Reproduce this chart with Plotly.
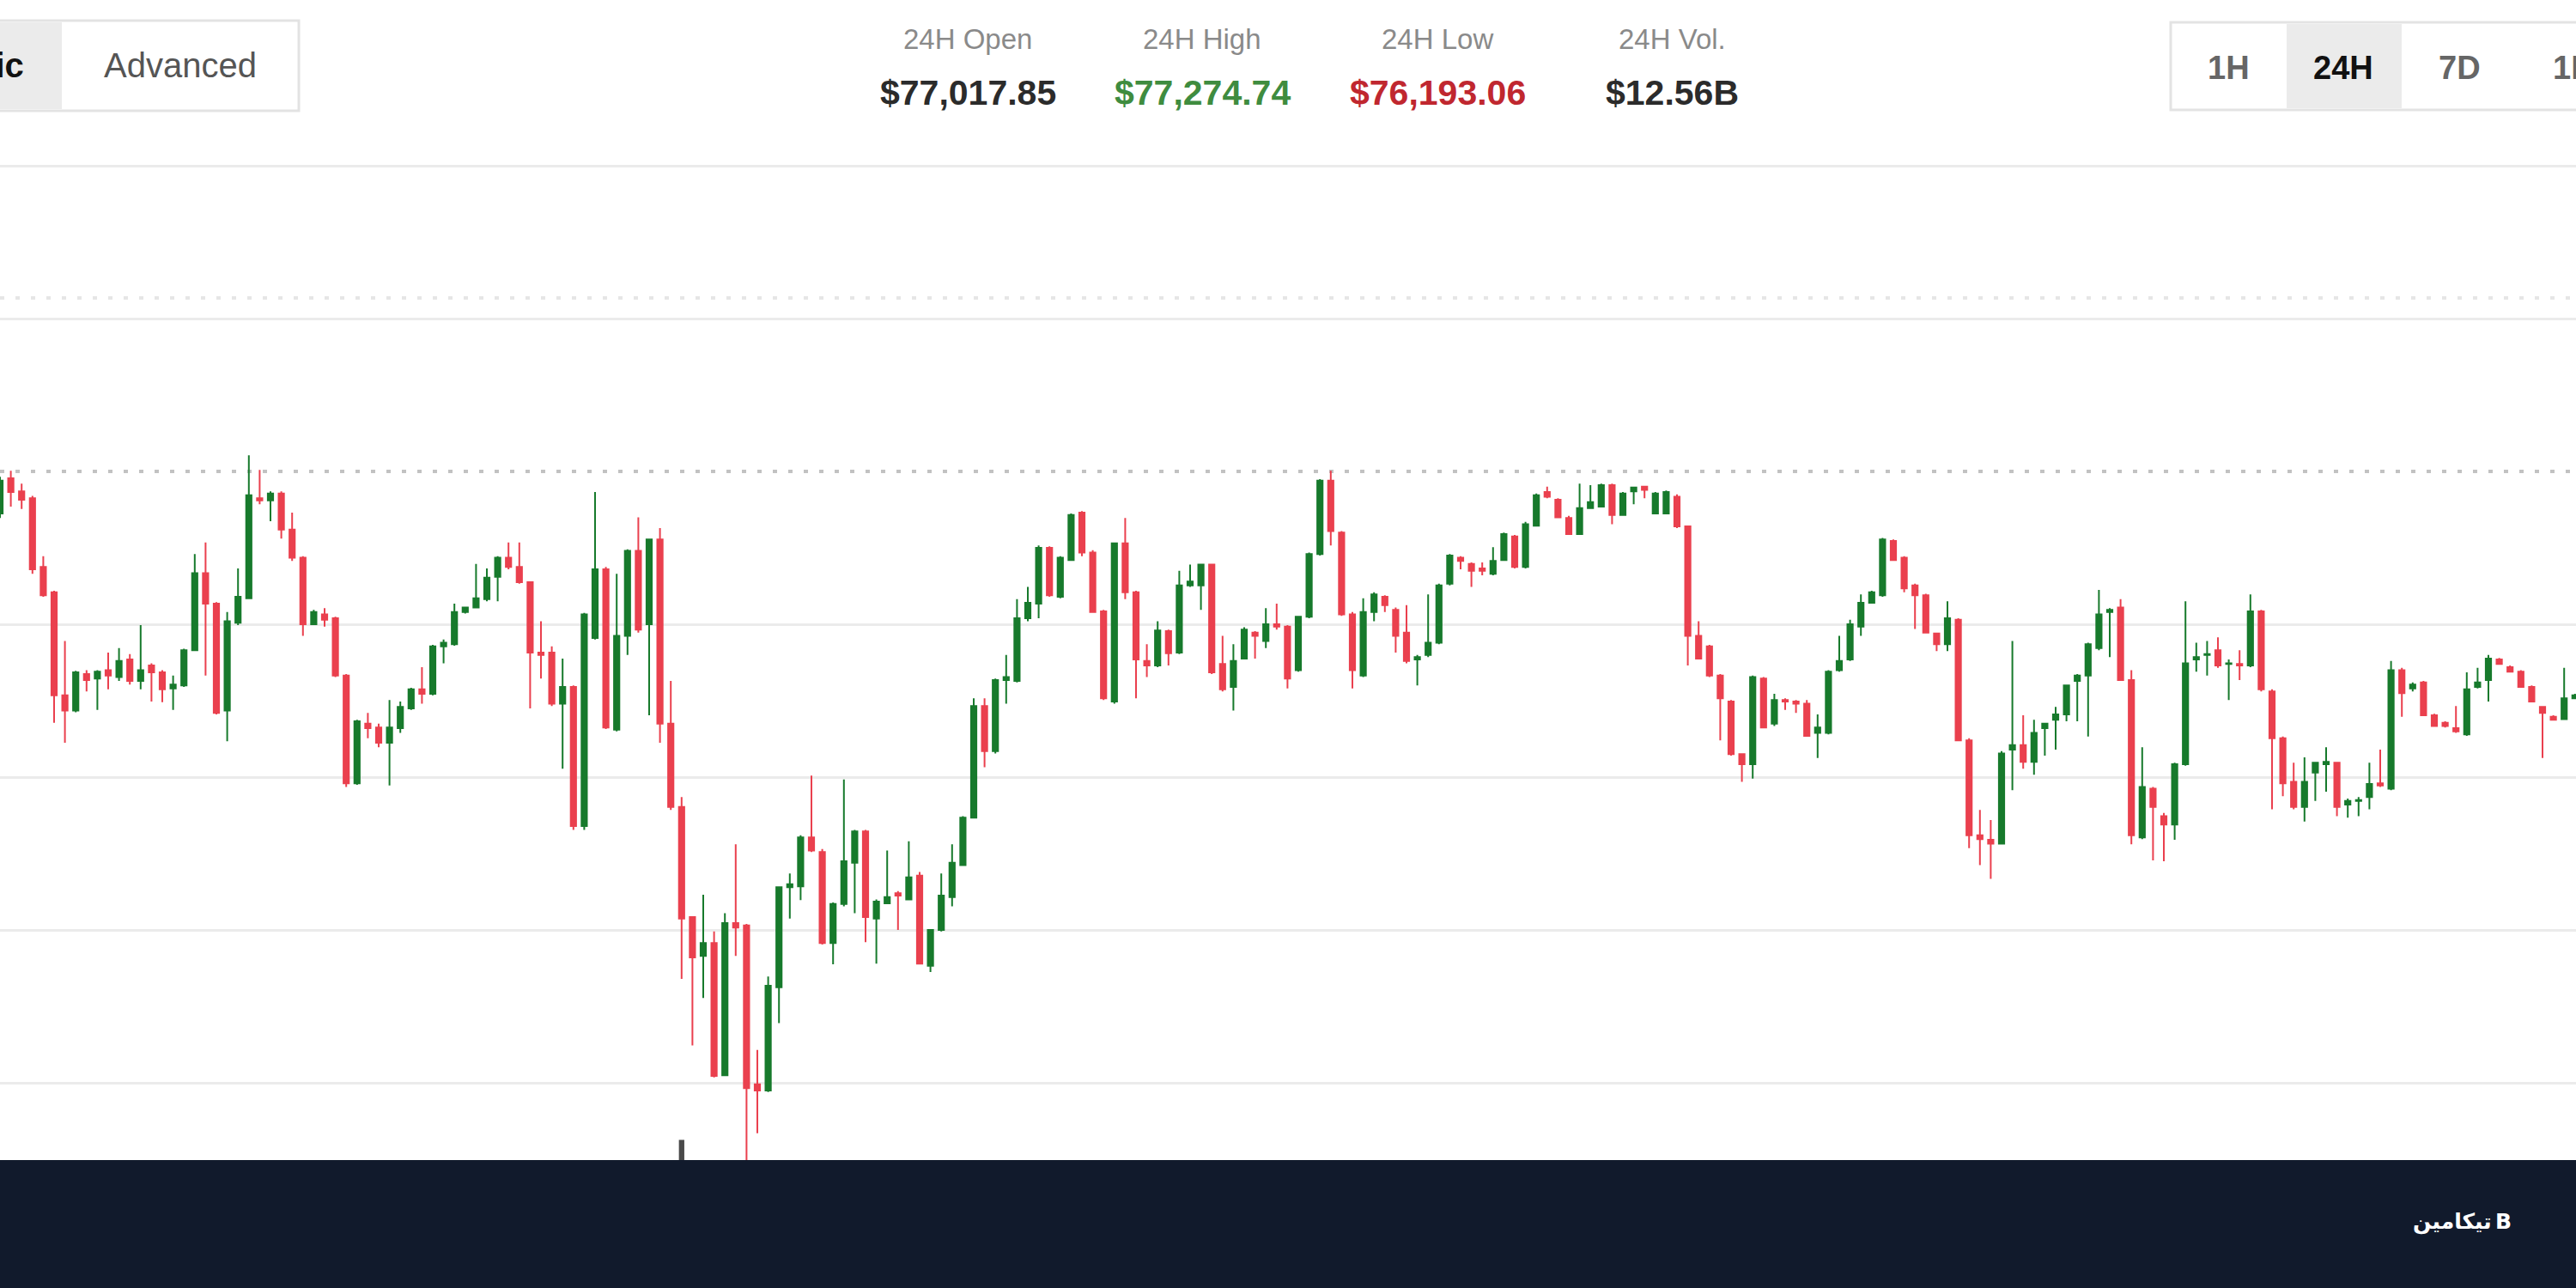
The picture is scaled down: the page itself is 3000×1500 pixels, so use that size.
import plotly.graph_objects as go

# ---------------- data (5-minute BTC candles) ----------------
opens = [77145, 77191, 77174, 77165, 77075, 77042, 76907, 76887, 76935, 76929,
         76940, 76931, 76954, 76926, 76946, 76937, 76916, 76920, 76966, 77067,
         77027, 76887, 77002, 77034, 77165, 77162, 77171, 77124, 77087, 77000,
         77013, 77008, 76933, 76792, 76870, 76865, 76845, 76864, 76890, 76915,
         76909, 76971, 76974, 77016, 77022, 77033, 77062, 77087, 77075, 77055,
         76963, 76963, 76896, 76918, 76736, 76982, 77072, 76862, 76985, 77096,
         77000, 77111, 76870, 76761, 76617, 76566, 76583, 76410, 76609, 76606,
         76398, 76390, 76525, 76656, 76657, 76721, 76702, 76583, 76634, 76688,
         76729, 76615, 76635, 76648, 76640, 76671, 76553, 76600, 76643, 76685,
         76747, 76893, 76834, 76927, 76926, 77008, 77027, 77100, 77036, 77084,
         77146, 77094, 77017, 76899, 77106, 77042, 76952, 76946, 76991, 76963,
         77051, 77051, 77078, 76948, 76918, 76955, 76989, 76978, 77000, 76997,
         76940, 77010, 77092, 77188, 77120, 77013, 76933, 77016, 77036, 77019,
         76989, 76954, 76960, 76976, 77053, 77087, 77079, 77073, 77066, 77084,
         77115, 77075, 77129, 77173, 77163, 77139, 77118, 77152, 77154, 77182,
         77143, 77174, 77180, 77145, 77145, 77167, 77128, 76985, 76971, 76933,
         76899, 76830, 76817, 76929, 76870, 76901, 76899, 76896, 76858, 76858,
         76940, 76954, 76997, 77028, 77038, 77109, 77087, 77051, 77038, 76988,
         76974, 77006, 76848, 76724, 76718, 76713, 76836, 76842, 76820, 76864,
         76875, 76882, 76926, 76933, 76969, 77016, 77022, 76927, 76721, 76785,
         76749, 76738, 76817, 76954, 76960, 76966, 76948, 76948, 76946, 77017,
         76912, 76851, 76794, 76761, 76806, 76817, 76819, 76764, 76769, 76774,
         76792, 76785, 76940, 76916, 76924, 76881, 76871, 76864, 76856, 76918,
         76927, 76954, 76944, 76938, 76918, 76892, 76879, 76876, 76903]
highs = [77193, 77201, 77184, 77168, 77089, 77044, 76978, 76939, 76940, 76940,
         76963, 76969, 76961, 76999, 76949, 76940, 76933, 76968, 77092, 77107,
         77029, 77016, 77073, 77221, 77202, 77174, 77174, 77146, 77089, 77019,
         77021, 77010, 76935, 76875, 76884, 76870, 76901, 76899, 76917, 76944,
         76973, 76980, 77027, 77023, 77079, 77073, 77089, 77107, 77107, 77056,
         77004, 76971, 76955, 76920, 77015, 77173, 77075, 77066, 77098, 77140,
         77112, 77126, 76926, 76774, 76618, 76646, 76598, 76622, 76712, 76608,
         76443, 76539, 76657, 76674, 76724, 76802, 76706, 76636, 76797, 76731,
         76731, 76640, 76704, 76651, 76716, 76676, 76601, 76674, 76712, 76749,
         76903, 76903, 76929, 76960, 77033, 77049, 77103, 77102, 77089, 77145,
         77148, 77097, 77019, 77107, 77139, 77044, 76974, 77004, 76993, 77070,
         77078, 77079, 77079, 76985, 76974, 76996, 76991, 77021, 77027, 76999,
         77011, 77094, 77190, 77201, 77122, 77016, 77034, 77042, 77038, 77022,
         77025, 76960, 77039, 77053, 77092, 77089, 77081, 77081, 77101, 77120,
         77117, 77134, 77171, 77180, 77165, 77142, 77184, 77182, 77184, 77184,
         77173, 77180, 77181, 77173, 77175, 77170, 77129, 77004, 76973, 76935,
         76901, 76831, 76933, 76931, 76909, 76903, 76901, 76901, 76882, 76940,
         76985, 77006, 77039, 77044, 77113, 77111, 77089, 77053, 77040, 76989,
         77030, 77008, 76851, 76757, 76744, 76834, 76978, 76881, 76875, 76871,
         76892, 76921, 76935, 76976, 77045, 77021, 77033, 76940, 76839, 76787,
         76753, 76819, 77030, 76976, 76978, 76983, 76954, 76966, 77039, 77019,
         76915, 76853, 76819, 76826, 76820, 76839, 76820, 76772, 76774, 76819,
         76836, 76952, 76943, 76924, 76926, 76883, 76873, 76893, 76937, 76943,
         76960, 76956, 76946, 76940, 76920, 76893, 76881, 76943, 76909]
lows = [77139, 77154, 77151, 77066, 77036, 76871, 76845, 76885, 76912, 76888,
        76915, 76926, 76921, 76915, 76899, 76898, 76888, 76918, 76965, 76933,
        76882, 76847, 76999, 77033, 77157, 77135, 77112, 77083, 76985, 76999,
        76997, 76931, 76787, 76790, 76851, 76839, 76789, 76858, 76888, 76896,
        76907, 76949, 76972, 77014, 77021, 77030, 77030, 77072, 77053, 76890,
        76929, 76893, 76811, 76731, 76731, 76980, 76863, 76860, 76960, 76989,
        76881, 76845, 76757, 76536, 76449, 76511, 76407, 76409, 76566, 76193,
        76334, 76388, 76478, 76615, 76639, 76702, 76581, 76555, 76631, 76622,
        76584, 76556, 76634, 76600, 76639, 76555, 76545, 76598, 76631, 76684,
        76746, 76813, 76831, 76896, 76924, 77004, 77008, 77036, 77034, 77083,
        77089, 77015, 76901, 76896, 77033, 76903, 76931, 76944, 76946, 76961,
        77049, 77019, 76935, 76912, 76887, 76954, 76955, 76969, 76993, 76916,
        76938, 77008, 77090, 77103, 77011, 76916, 76931, 77004, 77016, 76963,
        76949, 76920, 76957, 76974, 77051, 77072, 77049, 77064, 77064, 77083,
        77073, 77073, 77128, 77165, 77139, 77117, 77117, 77151, 77153, 77131,
        77142, 77157, 77165, 77144, 77144, 77126, 76946, 76954, 76931, 76848,
        76828, 76794, 76798, 76864, 76867, 76888, 76884, 76853, 76825, 76856,
        76938, 76952, 76985, 77027, 77036, 77083, 77042, 76994, 76988, 76965,
        76965, 76847, 76707, 76685, 76667, 76712, 76783, 76811, 76803, 76828,
        76836, 76873, 76873, 76853, 76966, 76957, 76926, 76712, 76719, 76691,
        76690, 76718, 76815, 76938, 76933, 76943, 76901, 76927, 76944, 76912,
        76758, 76775, 76758, 76742, 76769, 76781, 76749, 76747, 76749, 76758,
        76787, 76783, 76879, 76912, 76880, 76866, 76865, 76858, 76854, 76916,
        76899, 76947, 76937, 76917, 76898, 76825, 76874, 76875, 76902]
closes = [77188, 77173, 77163, 77072, 77038, 76907, 76887, 76937, 76927, 76938,
          76933, 76952, 76926, 76940, 76937, 76915, 76921, 76966, 77067, 77027,
          76884, 77004, 77036, 77169, 77162, 77171, 77124, 77087, 77000, 77016,
          77006, 76933, 76792, 76873, 76864, 76845, 76865, 76892, 76915, 76909,
          76971, 76976, 77016, 77022, 77034, 77061, 77087, 77075, 77055, 76963,
          76960, 76896, 76918, 76736, 77013, 77072, 76865, 76985, 77096, 76993,
          77111, 76870, 76761, 76615, 76564, 76583, 76409, 76609, 76603, 76393,
          76390, 76527, 76656, 76660, 76721, 76704, 76583, 76634, 76690, 76729,
          76617, 76637, 76643, 76645, 76669, 76556, 76600, 76645, 76688, 76747,
          76893, 76834, 76927, 76931, 77008, 77028, 77100, 77038, 77087, 77143,
          77094, 77016, 76903, 77106, 77042, 76954, 76946, 76992, 76962, 77051,
          77056, 77078, 76937, 76915, 76952, 76993, 76985, 77000, 76997, 76929,
          77010, 77092, 77188, 77122, 77013, 76940, 77016, 77039, 77025, 76985,
          76952, 76957, 76976, 77051, 77090, 77083, 77070, 77070, 77083, 77118,
          77075, 77131, 77169, 77167, 77140, 77118, 77152, 77160, 77182, 77143,
          77171, 77179, 77176, 77171, 77173, 77128, 76985, 76955, 76933, 76903,
          76830, 76817, 76931, 76865, 76901, 76899, 76896, 76854, 76865, 76938,
          76952, 77000, 77028, 77042, 77111, 77084, 77047, 77038, 76989, 76974,
          77008, 76848, 76724, 76719, 76713, 76831, 76842, 76820, 76858, 76870,
          76882, 76920, 76933, 76974, 77013, 77019, 76927, 76724, 76787, 76761,
          76738, 76817, 76949, 76957, 76961, 76946, 76949, 76946, 77017, 76915,
          76851, 76792, 76761, 76794, 76819, 76820, 76761, 76769, 76770, 76791,
          76789, 76940, 76910, 76921, 76881, 76867, 76867, 76860, 76915, 76924,
          76955, 76948, 76938, 76918, 76899, 76884, 76875, 76903, 76907]
bar_index = list(range(len(opens)))

gridline_prices = [76400, 76600, 76800, 77000, 77400, 77600]
dotted_levels = [77200, 77427]
dotted_colors = ["#c2c2c2", "#e6e6e6"]

volume_index = [63]
volume_value = [11.5]

stats_labels = ["24H Open", "24H High", "24H Low", "24H Vol."]
stats_values = ["$77,017.85", "$77,274.74", "$76,193.06", "$12.56B"]
stats_colors = ["#2b2b2b", "#3f8c3f", "#c0272f", "#2b2b2b"]
range_buttons = ["1H", "24H", "7D", "1M"]
mode_buttons = ["Basic", "Advanced"]
brand_text = "تیکامین"

# ---------------- layout constants ----------------
W, H = 3000, 1500
Y_TOP, Y_BOTTOM = 77816.9, 76131.5
X_RIGHT = 3000 / 12.6
FONT = "Liberation Sans, Arial, Helvetica, sans-serif"
UP, DOWN = "#177a2c", "#ea404e"


def px(x):
    return x / W


def py(y):
    return 1 - y / H


fig = go.Figure()
fig.add_trace(go.Bar(x=volume_index, y=volume_value, yaxis="y2", width=0.5,
                     marker=dict(color="#4a4a4a", line=dict(width=0)),
                     hoverinfo="skip", showlegend=False))
fig.add_trace(go.Candlestick(
    x=bar_index, open=opens, high=highs, low=lows, close=closes,
    increasing=dict(line=dict(color=UP, width=2), fillcolor=UP),
    decreasing=dict(line=dict(color=DOWN, width=2), fillcolor=DOWN),
    whiskerwidth=0, showlegend=False))

shapes = []
for lvl, col in zip(dotted_levels, dotted_colors):
    shapes.append(dict(type="line", xref="paper", x0=0, x1=1, yref="y", y0=lvl, y1=lvl,
                       line=dict(color=col, width=4, dash="5px,13px"), layer="below"))

# header: Basic / Advanced control
shapes.append(dict(type="rect", xref="paper", yref="paper", x0=px(-20), x1=px(348),
                   y0=py(129), y1=py(24), fillcolor="white",
                   line=dict(color="#e3e3e3", width=3), layer="above"))
shapes.append(dict(type="rect", xref="paper", yref="paper", x0=px(-20), x1=px(72),
                   y0=py(127), y1=py(26), fillcolor="#ebebeb",
                   line=dict(width=0), layer="above"))
# header: range buttons
shapes.append(dict(type="rect", xref="paper", yref="paper", x0=px(2528), x1=px(3030),
                   y0=py(128), y1=py(26), fillcolor="white",
                   line=dict(color="#e3e3e3", width=3), layer="above"))
shapes.append(dict(type="rect", xref="paper", yref="paper", x0=px(2663), x1=px(2797),
                   y0=py(126), y1=py(28), fillcolor="#ebebeb",
                   line=dict(width=0), layer="above"))
# footer band
shapes.append(dict(type="rect", xref="paper", yref="paper", x0=-0.01, x1=1.01,
                   y0=-0.01, y1=py(1351), fillcolor="#111a2c",
                   line=dict(width=0), layer="above"))

ann = []


def add_text(text, x, y, size, color, bold=False, xanchor="center", family=FONT):
    ann.append(dict(text=("<b>%s</b>" % text) if bold else text,
                    xref="paper", yref="paper", x=px(x), y=py(y),
                    xanchor=xanchor, yanchor="middle", showarrow=False,
                    font=dict(family=family, size=size, color=color)))


add_text(mode_buttons[0], 30, 76, 40, "#111111", bold=True, xanchor="right")
add_text(mode_buttons[1], 210, 76, 40, "#555555")

stat_x = [1127, 1400, 1674, 1947]
for lab, val, col, x in zip(stats_labels, stats_values, stats_colors, stat_x):
    add_text(lab, x, 45, 33, "#8a8a8a")
    add_text(val, x, 108, 41, col, bold=True)

btn_x = [2595, 2729, 2864, 2971]
for b, x in zip(range_buttons, btn_x):
    if b == "24H":
        add_text(b, x, 79, 38, "#111111", bold=True)
    elif b == "1M":
        add_text(b, x, 79, 38, "#666666", bold=True, xanchor="left")
    else:
        add_text(b, x, 79, 38, "#666666", bold=True)

add_text(brand_text, 2904, 1423, 25, "#ffffff", bold=True, xanchor="right",
         family="DejaVu Sans, Noto Sans, sans-serif")
add_text("B", 2915, 1422, 25, "#ffffff", bold=True, family="DejaVu Sans, sans-serif")

fig.update_layout(
    width=W, height=H, margin=dict(l=0, r=0, t=0, b=0),
    paper_bgcolor="white", plot_bgcolor="white", showlegend=False,
    xaxis=dict(range=[0, X_RIGHT], showgrid=False, zeroline=False, showticklabels=False,
               ticks="", showline=False, rangeslider=dict(visible=False), fixedrange=True),
    yaxis=dict(range=[Y_BOTTOM, Y_TOP], tickvals=gridline_prices, showticklabels=False,
               ticks="", showgrid=True, gridcolor="#ebebeb", gridwidth=3,
               zeroline=False, showline=False),
    yaxis2=dict(overlaying="y", range=[0, 100], visible=False),
    shapes=shapes, annotations=ann,
)

fig.write_html("out.html", config={"displayModeBar": False},
               post_script="document.body.style.margin='0px';document.body.style.overflow='hidden';")
